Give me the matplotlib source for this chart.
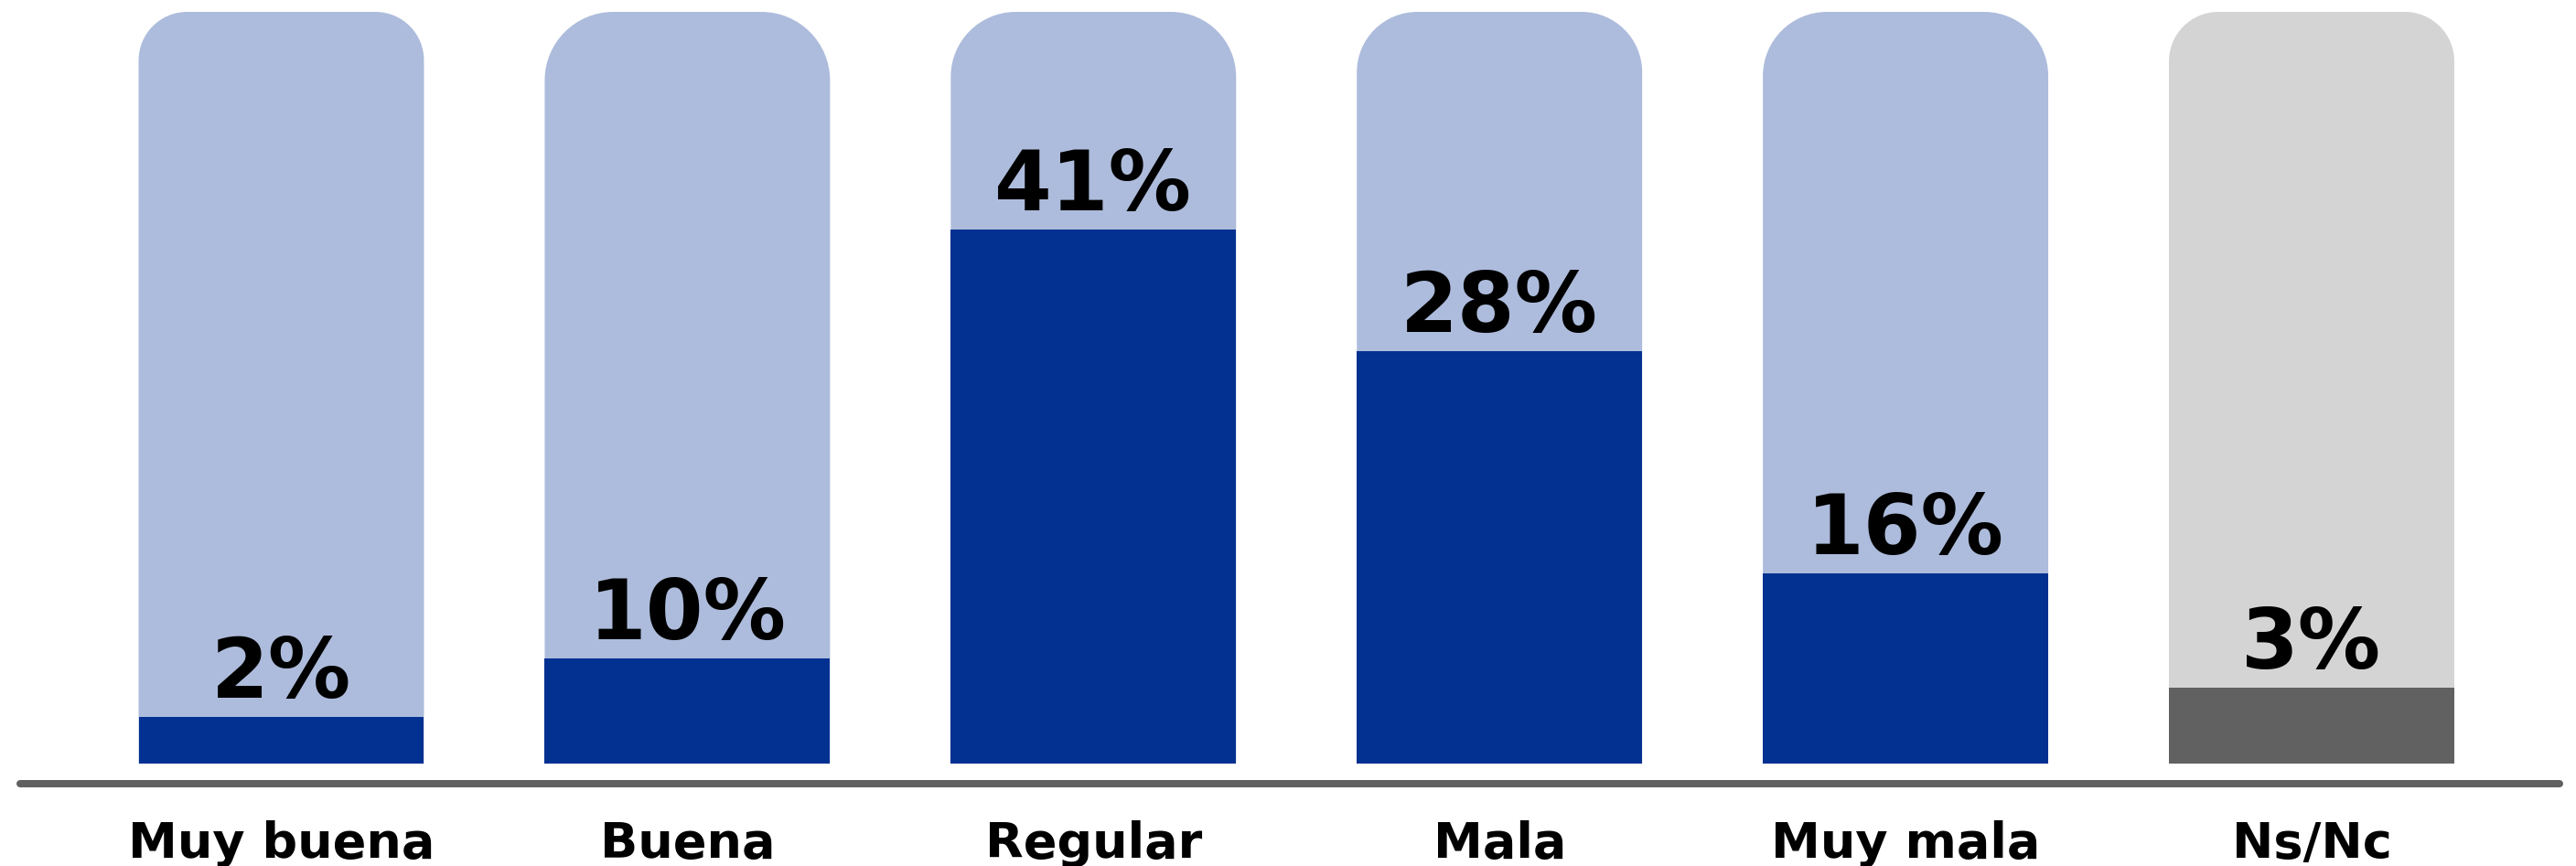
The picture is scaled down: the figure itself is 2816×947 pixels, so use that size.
import matplotlib
matplotlib.use("Agg")
import matplotlib.pyplot as plt
from matplotlib.path import Path
from matplotlib.patches import PathPatch
from matplotlib.lines import Line2D
from matplotlib.transforms import blended_transform_factory

# ---- data ----
categories = ["Muy buena", "Buena", "Regular", "Mala", "Muy mala", "Ns/Nc"]
values = [2, 10, 41, 28, 16, 3]                 # labelled percentages
fill_level = [6.2, 14.0, 71.0, 54.9, 25.3, 10.1]  # drawn fill height (% of track)
labels = [f"{v}%" for v in values]

# ---- style ----
W, H, DPI = 2816, 947, 100
track_colors = ["#adbcdc"] * 5 + ["#d4d4d4"]
fill_colors = ["#033191"] * 5 + ["#616161"]
corner_px = [53, 75, 71, 66, 70, 54]
bar_w = 0.7027

fig = plt.figure(figsize=(W / DPI, H / DPI), dpi=DPI)
fig.patch.set_facecolor("white")
ax_bottom = (H - 835) / H
ax_top = (H - 13) / H
ax = fig.add_axes([0, ax_bottom, 1, ax_top - ax_bottom])
x0 = -307.5 / 443.9
ax.set_xlim(x0, x0 + W / 443.9)
ax.set_ylim(0, 100)
ax.axis("off")

px_per_x = 443.9
px_per_y = (835 - 13) / 100.0
k = 0.5523

for i, (tc, r) in enumerate(zip(track_colors, corner_px)):
    l, rr = i - bar_w / 2, i + bar_w / 2
    t = 100.0
    rx, ry = r / px_per_x, r / px_per_y
    verts = [
        (l, 0), (l, t - ry),
        (l, t - ry + k * ry), (l + rx - k * rx, t), (l + rx, t),
        (rr - rx, t),
        (rr - rx + k * rx, t), (rr, t - ry + k * ry), (rr, t - ry),
        (rr, 0), (l, 0),
    ]
    codes = [Path.MOVETO, Path.LINETO,
             Path.CURVE4, Path.CURVE4, Path.CURVE4,
             Path.LINETO,
             Path.CURVE4, Path.CURVE4, Path.CURVE4,
             Path.LINETO, Path.CLOSEPOLY]
    ax.add_patch(PathPatch(Path(verts, codes), facecolor=tc, edgecolor="none", zorder=1))

xs = list(range(len(categories)))
ax.bar(xs, fill_level, width=bar_w, color=fill_colors, zorder=2, linewidth=0)

for i, (lv, lab) in enumerate(zip(fill_level, labels)):
    ax.annotate(lab, xy=(i, lv), xytext=(0, 21 * 72 / DPI), textcoords="offset points",
                ha="center", va="baseline", fontsize=65, fontweight="bold",
                family="DejaVu Sans", color="black", zorder=3)

trans = blended_transform_factory(ax.transData, fig.transFigure)
for i, c in enumerate(categories):
    ax.text(i, (H - 938) / H, c, transform=trans, ha="center", va="baseline",
            fontsize=39, fontweight="bold", family="DejaVu Sans", color="black")

lw_px = 8
fig.add_artist(Line2D([(18 + lw_px / 2) / W, (2802 - lw_px / 2) / W],
                      [(H - 857) / H] * 2, transform=fig.transFigure,
                      color="#606060", linewidth=lw_px * 72 / DPI,
                      solid_capstyle="round"))

fig.savefig("out.png", dpi=DPI, facecolor="white")
